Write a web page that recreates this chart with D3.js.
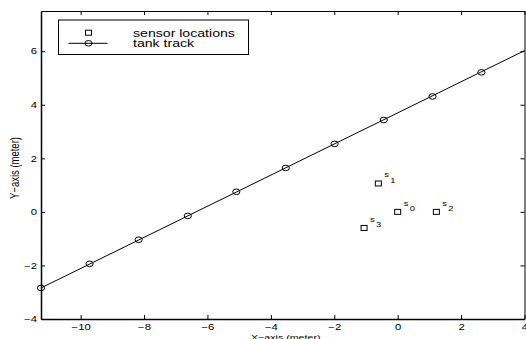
<!DOCTYPE html>
<html><head><meta charset="utf-8">
<script src="https://cdn.jsdelivr.net/npm/d3@7"></script>
<style>html,body{margin:0;padding:0;background:#fff;}svg{display:block;font-family:"Liberation Sans",Arial,Helvetica,sans-serif;}</style>
</head><body><svg id="c" width="526" height="339"></svg>
<script>
// ---- data ----
const trackX = [-11.25, -9.72, -8.17, -6.62, -5.09, -3.53, -1.99, -0.44, 1.10, 2.64];
const trackY = [-2.84, -1.94, -1.04, -0.15, 0.75, 1.64, 2.54, 3.43, 4.31, 5.21];
const trackLineX = [-11.25, 4];
const trackLineY = [-2.84, 6.02];
const sensorNames = ["0", "1", "2", "3"];
const sensorX = [0, -0.61, 1.22, -1.06];
const sensorY = [0, 1.06, 0, -0.6];
const xTicks = [-10, -8, -6, -4, -2, 0, 2, 4];
const yTicks = [-4, -2, 0, 2, 4, 6];
const legendLabels = ["sensor locations", "tank track"];
const xLabel = "X\u2212axis (meter)";
const yLabel = "Y\u2212axis (meter)";

const SX = 1.33; // horizontal text stretch of the reference
const svg = d3.select("#c");
const L = 41, R = 524.5, T = 11, B = 319;
const x = d3.scaleLinear().domain([-11.25, 4]).range([L, R]);
const y = d3.scaleLinear().domain([-4, 7.5]).range([B, T]);
const fmt = d => d < 0 ? "\u2212" + Math.abs(d) : String(d);

// axes
const gB = svg.append("g").attr("transform", `translate(0,${B})`)
  .call(d3.axisBottom(x).tickValues(xTicks).tickFormat(fmt).tickSizeInner(-4).tickSizeOuter(0).tickPadding(6));
const gL = svg.append("g").attr("transform", `translate(${L},0)`)
  .call(d3.axisLeft(y).tickValues(yTicks).tickFormat(fmt).tickSizeInner(-4).tickSizeOuter(0).tickPadding(3));
const gT = svg.append("g").attr("transform", `translate(0,${T})`)
  .call(d3.axisTop(x).tickValues(xTicks).tickFormat("").tickSizeInner(-4).tickSizeOuter(0));
const gR = svg.append("g").attr("transform", `translate(${R},0)`)
  .call(d3.axisRight(y).tickValues(yTicks).tickFormat("").tickSizeInner(-4).tickSizeOuter(0));
[gB, gL, gT, gR].forEach(g => {
  g.selectAll("path.domain").attr("stroke", "#000");
  g.selectAll(".tick line").attr("stroke", "#000");
  g.selectAll("text").attr("font-family", '"Liberation Sans",Arial,sans-serif').attr("font-size", 8.5).attr("fill", "#000");
});
gB.selectAll("path.domain").attr("stroke-width", 1.5);
gL.selectAll("path.domain").attr("stroke-width", 1.5);
gB.selectAll("text").attr("dy", null).attr("y", 11).attr("transform", `scale(${SX},1)`);
gL.selectAll("text").attr("transform", `scale(${SX},1)`);

// axis labels
function stext(px, py, str, size, anchor, sx) {
  return svg.append("text").attr("transform", `translate(${px},${py}) scale(${sx},1)`)
    .attr("font-size", size).attr("text-anchor", anchor).attr("fill", "#000").text(str);
}
stext((L + R) / 2 + 3, 339.5, xLabel, 8, "middle", SX);
svg.append("text").attr("transform", `translate(19,168) rotate(-90) scale(1,${SX})`)
  .attr("font-size", 9.5).attr("text-anchor", "middle").attr("fill", "#000").text(yLabel);

// track line
const line = d3.line().x(d => x(d[0])).y(d => y(d[1]));
svg.append("path").datum(d3.zip(trackLineX, trackLineY)).attr("d", line)
  .attr("fill", "none").attr("stroke", "#000").attr("stroke-width", 1);
svg.append("g").selectAll("ellipse").data(d3.zip(trackX, trackY)).join("ellipse")
  .attr("cx", d => x(d[0])).attr("cy", d => y(d[1])).attr("rx", 3.6).attr("ry", 2.8)
  .attr("fill", "none").attr("stroke", "#000").attr("stroke-width", 1);

// sensors
const sensors = sensorNames.map((n, i) => ({n, x: sensorX[i], y: sensorY[i]}));
svg.append("g").selectAll("rect").data(sensors).join("rect")
  .attr("x", d => x(d.x) - 3).attr("y", d => y(d.y) - 2.5).attr("width", 6).attr("height", 5)
  .attr("fill", "none").attr("stroke", "#000").attr("stroke-width", 1);
sensors.forEach(d => {
  stext(x(d.x) + 6, y(d.y) - 6, "s", 7.5, "start", 1.25);
  stext(x(d.x) + 12, y(d.y) - 0.5, d.n, 7.5, "start", 1.25);
});

// legend
svg.append("rect").attr("x", 58.5).attr("y", 20).attr("width", 190).attr("height", 34.5)
  .attr("fill", "#fff").attr("stroke", "#000").attr("stroke-width", 1);
svg.append("rect").attr("x", 88.5 - 3).attr("y", 32.7 - 2.5).attr("width", 6).attr("height", 5)
  .attr("fill", "none").attr("stroke", "#000").attr("stroke-width", 1);
svg.append("line").attr("x1", 68.5).attr("x2", 107.5).attr("y1", 43.3).attr("y2", 43.3)
  .attr("stroke", "#000").attr("stroke-width", 1);
svg.append("ellipse").attr("cx", 88.5).attr("cy", 43.3).attr("rx", 3.6).attr("ry", 2.8)
  .attr("fill", "none").attr("stroke", "#000").attr("stroke-width", 1);
stext(133, 36.5, legendLabels[0], 10.3, "start", 1.37);
stext(133, 47, legendLabels[1], 10.3, "start", 1.37);
</script></body></html>
